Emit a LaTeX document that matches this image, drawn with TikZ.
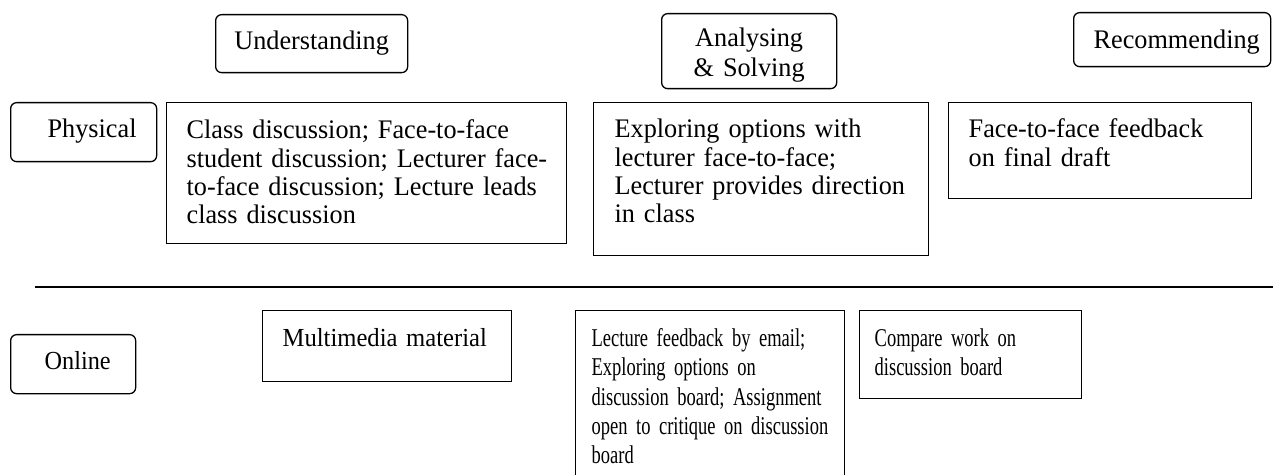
\documentclass[tikz,border=0pt]{standalone}
\usepackage{fontspec}
\setmainfont{Liberation Serif}
\newfontfamily\fTop[FakeStretch=0.979]{Liberation Serif}
\newfontfamily\fMM[FakeStretch=0.947]{Liberation Serif}
\newfontfamily\fOn[FakeStretch=0.933]{Liberation Serif}
\newfontfamily\fNarrow[FakeStretch=0.723]{Liberation Serif}
\newcommand\oneline[1]{\mbox{#1}}
\tikzset{
  lbl/.style={draw, line width=0.65pt, rounded corners=3pt, inner sep=0pt, anchor=north west},
  cell/.style={draw, line width=0.65pt, inner ysep=0pt, anchor=north west, align=left},
  ftop/.style={font={\fTop\fontsize{13.4}{14.2}\selectfont}},
  fmm/.style={font={\fMM\fontsize{13}{14.2}\selectfont}},
  fon/.style={font={\fOn\fontsize{13}{14.2}\selectfont}},
  fnarrow/.style={font={\fNarrow\fontsize{12.8}{14.6}\selectfont}},
  divider/.style={line width=0.8pt}
}
\begin{document}
\begin{tikzpicture}[x=0.5pt,y=-0.5pt]
\useasboundingbox (0,0) rectangle (1273,475);
\clip (0,0) rectangle (1273,475);
% column headers
\node[lbl, ftop, align=center, text width=96pt, text height=17.5pt, text depth=11.5pt] (und) at (215,14) {Understanding};
\node[lbl, font={\fTop\fontsize{13.4}{15}\selectfont}, align=center, text width=87.5pt, text height=16.5pt, text depth=21pt] (ana) at (661,13) {Analysing\\\& Solving};
\node[lbl, ftop, align=left, text width=98.5pt, text height=18pt, text depth=9pt] (rec) at (1073,12) {\hspace*{10pt}Recommending};
% row headers
\node[lbl, ftop, align=left, text width=73pt, text height=17.5pt, text depth=12pt] (phy) at (10,102) {\hspace*{18.5pt}Physical};
\node[lbl, fon, align=left, text width=62.5pt, text height=17.5pt, text depth=12pt] (onl) at (10,334) {\hspace*{17pt}Online};
% physical row
\node[cell, ftop, inner xsep=10pt, text width=180pt, text height=18pt, text depth=52.5pt] (pu) at (166,102)
  {\oneline{Class discussion; Face-to-face}\\\oneline{student discussion; Lecturer face-}\\\oneline{to-face discussion; Lecture leads}\\class discussion};
\node[cell, ftop, inner xsep=10.5pt, text width=146.5pt, text height=17.5pt, text depth=59pt] (pa) at (593,102)
  {\oneline{Exploring options with}\\\oneline{lecturer face-to-face;}\\\oneline{Lecturer provides direction}\\in class};
\node[cell, ftop, inner xsep=10pt, text width=131.5pt, text height=17.5pt, text depth=30.5pt] (pr) at (948,102)
  {\oneline{Face-to-face feedback}\\on final draft};
% divider
\coordinate (dl) at (35,287);
\coordinate (dr) at (1273,287);
\draw[divider] (dl) -- (dr);
% online row
\node[cell, fmm, inner xsep=10pt, text width=104.5pt, text height=18pt, text depth=17.5pt] (ou) at (262,310)
  {\oneline{Multimedia material}};
\node[cell, fnarrow, inner xsep=8pt, text width=118.5pt, text height=18pt, text depth=72pt] (oa) at (575,310)
  {\oneline{Lecture feedback by email;}\\\oneline{Exploring options on}\\\oneline{discussion board; Assignment}\\\oneline{open to critique on discussion}\\board};
\node[cell, font={\fNarrow\fontsize{12.8}{14.5}\selectfont}, inner xsep=7.5pt, text width=96pt, text height=18pt, text depth=26pt] (or) at (859,310)
  {\oneline{Compare work on}\\\oneline{discussion board}};
\end{tikzpicture}
\end{document}
